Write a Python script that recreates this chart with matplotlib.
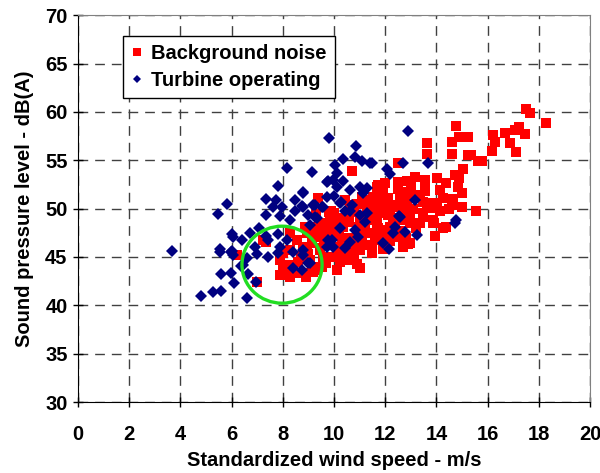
import numpy as np
import matplotlib
matplotlib.use('Agg')
import matplotlib.pyplot as plt
from matplotlib.patches import Ellipse

# background noise (red squares): wind speed m/s, level dB(A)
bg_x = [17.5, 17.66, 18.28, 17.23, 17.07, 16.68, 17.46, 16.21, 16.29, 16.88, 16.17, 17.11,
        14.77, 14.88, 15.23, 14.61, 13.63, 14.61, 13.63, 15.23, 15.35, 15.63, 15.78, 15.04,
        14.73, 14.88, 14.02, 13.16, 13.55, 14.38, 14.84, 12.5, 11.99, 13.0, 14.14, 13.55,
        12.7, 11.68, 15.0, 14.65, 11.91, 12.85, 13.48, 14.26, 13.95, 14.61, 15.0, 15.55,
        11.52, 12.3, 13.75, 14.14, 14.5, 12.11, 12.97, 13.48, 11.68, 13.48, 13.87, 14.26,
        13.95, 14.38, 13.91, 12.89, 12.7, 12.5, 10.7, 12.5, 12.85, 13.55,
        11.72, 11.91, 11.52, 11.09, 12.11, 12.58, 12.97, 13.36, 13.63, 14.02, 11.52, 11.91,
        12.46, 11.29, 10.63, 10.23, 9.84, 9.45, 9.06, 10.35, 10.9, 11.68, 12.19, 12.97,
        13.36, 13.87, 9.06, 9.45, 9.96, 10.9, 11.29, 11.6, 12.07, 12.46, 12.97, 8.94,
        9.45, 10.12, 10.55, 11.02, 11.48, 9.96, 10.51, 9.06, 9.34, 10.1, 11.02, 10.23,
        9.37, 11.1, 11.13, 10.63, 10.43, 10.9, 10.5, 11.0, 11.4, 11.8, 12.3, 12.6,
        12.0, 12.6, 10.6, 10.2, 9.7, 11.5, 10.6, 9.6, 10.9, 11.9,
        7.89, 8.0, 8.4, 8.79, 9.18, 9.34, 8.16, 7.89, 8.0, 8.28, 8.79, 9.14,
        9.45, 9.57, 9.53, 8.55, 8.94, 9.34, 9.73, 8.87, 8.28, 7.23, 6.99, 7.34,
        6.2, 8.6, 8.7, 9.0, 8.3, 8.3, 8.9,
        10.0, 10.4, 10.8, 11.2, 11.6, 12.2, 12.8, 11.0, 11.8, 12.4, 10.3, 10.0,
        9.8, 11.3, 11.7, 12.2, 13.1, 13.2, 12.8, 11.4, 10.8, 9.3, 9.9, 10.4,
        10.6, 11.1, 10.2, 11.5, 9.7, 10.9]
bg_y = [60.3, 59.9, 58.8, 58.4, 58.1, 57.8, 57.7, 57.6, 56.9, 56.8, 56.0, 55.9,
        58.5, 57.4, 57.4, 56.9, 56.8, 55.6, 55.6, 55.5, 55.5, 54.9, 54.9, 54.1,
        53.5, 53.2, 53.2, 53.3, 53.0, 52.6, 52.2, 52.7, 52.6, 52.2, 51.9, 51.8,
        51.7, 52.2, 51.6, 51.0, 51.1, 50.7, 50.7, 51.1, 50.6, 50.4, 50.2, 49.8,
        50.2, 50.4, 50.1, 49.8, 50.0, 49.3, 49.3, 49.1, 49.1, 49.5, 48.8, 48.0,
        47.2, 48.1, 48.5, 46.3, 46.0, 54.7, 53.9, 52.0, 52.9, 52.5,
        52.4, 51.9, 51.2, 51.2, 51.1, 51.2, 51.2, 51.4, 50.6, 50.6, 50.2, 50.2,
        50.2, 49.6, 49.8, 49.0, 48.6, 48.5, 48.1, 48.1, 48.1, 48.5, 48.1, 48.5,
        48.5, 48.5, 47.5, 47.1, 47.3, 47.1, 47.5, 46.8, 46.8, 47.1, 46.4, 46.0,
        45.7, 46.0, 45.7, 45.7, 46.0, 45.0, 44.7, 44.7, 43.6, 43.7, 43.9, 44.5,
        51.1, 51.2, 50.9, 50.4, 50.9, 50.5, 49.3, 49.0, 48.8, 49.5, 49.0, 48.8,
        47.8, 47.7, 48.6, 47.6, 47.8, 47.5, 46.5, 46.4, 46.0, 45.8,
        44.7, 44.0, 43.3, 43.3, 43.4, 44.0, 43.3, 43.1, 45.4, 45.7, 46.0, 46.4,
        45.9, 45.0, 44.0, 46.8, 47.5, 47.6, 47.5, 48.1, 47.5, 46.8, 42.4, 46.5,
        45.2, 44.5, 45.0, 45.3, 44.2, 42.9, 42.9,
        49.5, 48.9, 49.6, 48.3, 49.8, 49.7, 49.9, 47.6, 47.3, 48.6, 46.9, 48.0,
        49.6, 50.1, 48.0, 46.6, 50.0, 48.0, 47.0, 46.2, 45.0, 49.4, 49.7, 46.4,
        47.0, 46.8, 45.4, 45.4, 44.4, 44.3]

# turbine operating (navy diamonds)
op_x = [3.67, 4.8, 5.27, 5.59, 6.6, 5.59, 5.98, 6.64, 6.1, 6.95, 5.55, 5.98,
        6.05, 6.6, 6.99, 7.42, 7.81, 8.4, 8.8, 6.45, 8.4, 8.98, 6.02, 6.05,
        7.07, 6.72, 7.34, 7.8, 7.42, 6.4, 6.91, 7.89, 8.16, 9.77, 9.73, 5.82,
        5.47, 7.34, 7.89, 8.48, 8.28, 8.75, 9.18, 9.53, 9.34, 7.34, 7.73, 8.48,
        7.6, 7.97, 7.8, 8.8, 8.16, 9.14, 9.73, 9.8,
        10.86, 10.82, 11.09, 11.41, 10.35, 10.04, 10.12, 9.96, 10.35, 10.12, 10.63, 10.0,
        11.13, 9.73, 10.27, 10.63, 11.02,
        12.9, 11.5, 12.7, 13.67, 12.07, 12.2, 13.16, 12.54, 14.77,
        12.38, 12.3, 12.77, 13.24, 11.91, 12.15, 14.73,
        9.77, 11.02, 11.29, 8.79, 9.26, 9.57, 8.79, 10.23, 10.7, 8.98, 9.26, 10.43,
        12.58, 11.29, 11.21, 10.23, 10.82, 10.94, 9.92, 9.96, 10.63, 10.43, 9.06, 8.79,
        9.06, 8.75, 5.55, 6.0, 6.37]
op_y = [45.6, 41.0, 41.4, 41.5, 40.8, 43.2, 43.3, 43.2, 42.3, 42.4, 45.5, 45.5,
        45.2, 44.9, 45.3, 45.0, 45.4, 45.5, 45.2, 44.2, 43.9, 44.4, 47.4, 47.1,
        48.0, 47.5, 47.2, 47.4, 46.8, 46.8, 46.0, 46.0, 46.8, 46.8, 46.0, 50.5,
        49.4, 49.3, 49.2, 49.8, 48.8, 50.3, 50.4, 50.2, 49.0, 51.0, 50.9, 50.9,
        50.2, 50.2, 52.3, 51.7, 54.2, 53.8, 52.8, 57.3,
        56.5, 55.3, 54.9, 54.7, 55.1, 54.5, 53.7, 53.0, 52.9, 52.2, 51.9, 51.3,
        51.6, 51.2, 50.7, 49.8, 49.3,
        58.0, 54.7, 54.7, 54.7, 54.1, 53.6, 50.9, 49.2, 48.8,
        48.1, 47.5, 47.6, 47.3, 46.4, 45.8, 48.5,
        52.9, 52.2, 52.1, 51.6, 50.4, 50.2, 50.2, 50.6, 50.4, 49.3, 49.1, 49.8,
        49.1, 49.5, 48.6, 48.0, 47.8, 47.1, 46.8, 46.0, 46.5, 45.9, 48.3, 45.7,
        44.4, 43.6, 45.8, 45.6, 44.1]

plt.rcParams['font.family'] = ['Liberation Sans', 'DejaVu Sans']
plt.rcParams['font.weight'] = 'bold'

fig = plt.figure(figsize=(6.0, 4.73), dpi=100)
ax = fig.add_axes([0.13, 0.15, 0.8533, 0.818])

ax.plot(bg_x, bg_y, 's', color='#ff0000', markersize=7.5, markeredgewidth=0,
        label='Background noise', zorder=3)
ax.plot(op_x, op_y, 'D', color='#000080', markersize=5.8, markeredgewidth=0,
        label='Turbine operating', zorder=4)

circle = Ellipse((7.97, 44.2), 3.13, 7.96, fill=False, edgecolor='#22dd22',
                 linewidth=2.4, zorder=5)
ax.add_patch(circle)

ax.set_xlim(0, 20)
ax.set_ylim(30, 70)
ax.set_xticks(np.arange(0, 21, 2))
ax.set_yticks(np.arange(30, 71, 5))
ax.grid(True, linestyle=(0, (7, 5)), color='#404040', linewidth=1.0)
ax.set_axisbelow(True)
ax.tick_params(direction='inout', length=7, width=1, labelsize=14.5, pad=4)
for lbl in ax.get_xticklabels() + ax.get_yticklabels():
    lbl.set_fontweight('bold')
ax.tick_params(axis='x', pad=13)

for s in ['top', 'right']:
    ax.spines[s].set_color('#808080')
ax.spines['left'].set_color('black')
ax.spines['bottom'].set_color('black')

ax.set_xlabel('Standardized wind speed - m/s', fontsize=14.5, fontweight='bold', labelpad=5)
ax.set_ylabel('Sound pressure level - dB(A)', fontsize=14.5, fontweight='bold', labelpad=8)

leg = ax.legend(loc='upper left', bbox_to_anchor=(0.088, 0.946), borderaxespad=0,
                fancybox=False, edgecolor='black', framealpha=1, fontsize=14.5,
                handlelength=0.6, handletextpad=0.4, markerscale=0.75,
                borderpad=0.4, labelspacing=0.4)
leg.get_frame().set_linewidth(1.0)
for t in leg.get_texts():
    t.set_fontweight('bold')

fig.savefig('out.png', dpi=100)
